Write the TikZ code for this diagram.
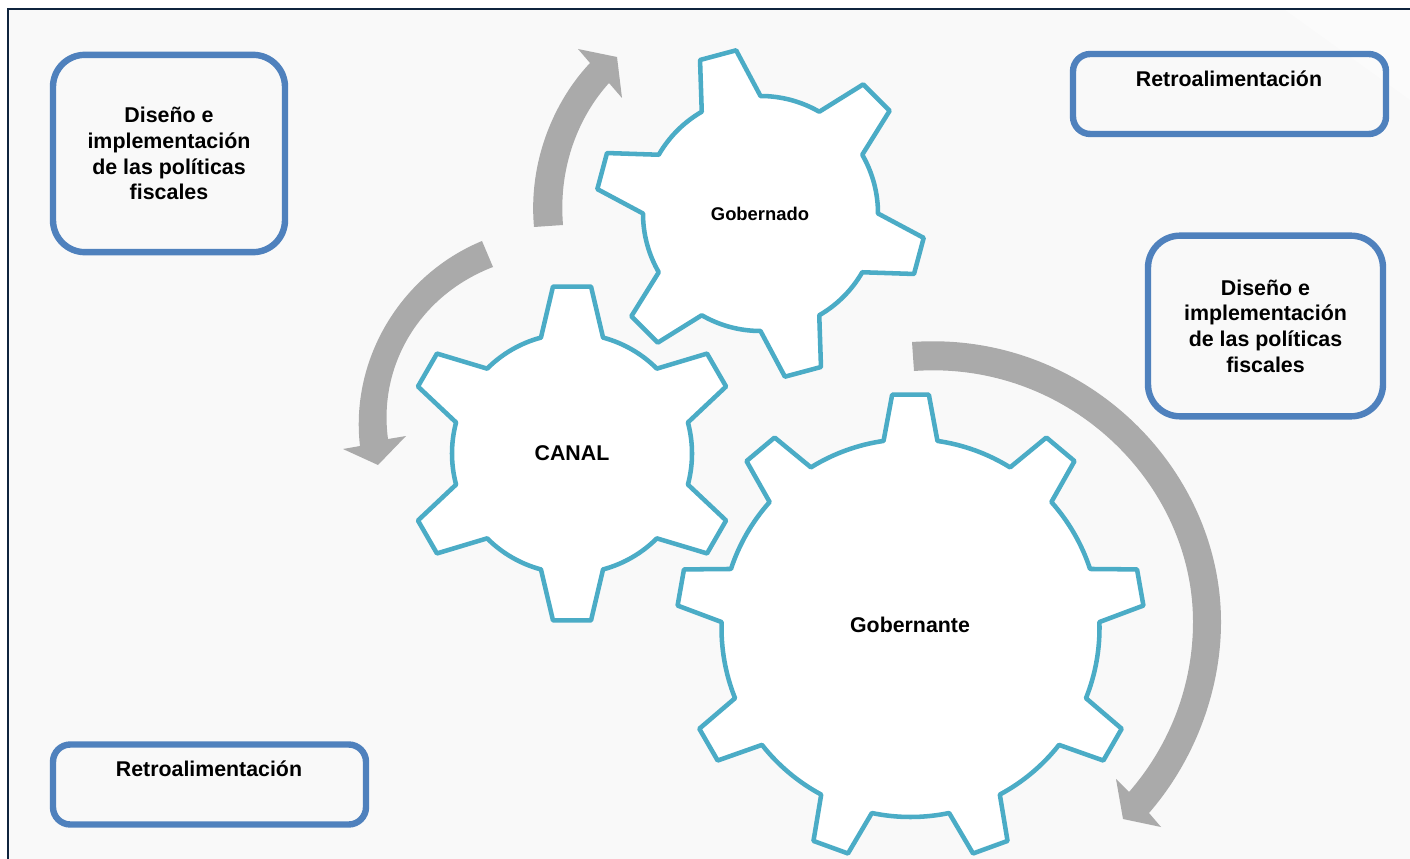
\documentclass[tikz,border=0pt]{standalone}
\usepackage{fontspec}
\setmainfont{Liberation Sans}
\definecolor{boxblue}{HTML}{4F81BD}
\definecolor{gearteal}{HTML}{4BACC6}
\definecolor{arrowgray}{HTML}{AAAAAA}
\definecolor{framenavy}{HTML}{0F243E}
\definecolor{pagebg}{HTML}{F9F9F9}
% #1 centre, #2 number of teeth, #3 rotation of first tooth (clockwise from top),
% #4 body radius (px), #5 tip radius (px), #6 base half angle, #7 tip half angle
\newcommand{\geardraw}[7]{%
  \begin{scope}[shift={#1}]
    \pgfmathsetmacro{\gstep}{360/#2}
    \pgfmathsetmacro{\grb}{#4*0.75}
    \pgfmathsetmacro{\grt}{#5*0.75}
    \pgfmathsetmacro{\glast}{int(#2-1)}
    \draw[gearline] (90-#3+#6:\grb pt)
      \foreach \gi [evaluate=\gi as \gp using 90-#3-\gi*\gstep] in {0,...,\glast}{
        -- (\gp+#7:\grt pt) -- (\gp-#7:\grt pt) -- (\gp-#6:\grb pt)
        arc[start angle=\gp-#6, end angle=\gp-\gstep+#6, radius=\grb pt]
      } -- cycle;
  \end{scope}}
\tikzset{
  gearline/.style={draw=gearteal,fill=white,line width=3.4pt,line join=round},
  roundbox/.style={draw=boxblue,line width=4.8pt,align=center,inner sep=0pt,outer sep=0pt,font=\bfseries\fontsize{16.05}{19.3}\selectfont},
  labeltext/.style={inner sep=0pt,align=center,font=\bfseries\fontsize{16}{19.3}\selectfont},
  bigarrow/.style={fill=arrowgray,draw=none}
}
\begin{document}
\begin{tikzpicture}[x=0.75pt,y=-0.75pt]
\useasboundingbox (0,0) rectangle (1410,859);
\fill[white] (0,0) rectangle (1410,859);
\fill[pagebg] (8,10) rectangle (1410,859);
\fill[white!40!pagebg] (1285,10) -- (1410,10) -- (1410,100) -- cycle;
\draw[framenavy,line width=1.6pt] (8,859) -- (8,9) -- (1410,9);

% gears
\geardraw{(760.5,213.5)}{6}{-15}{117.5}{165}{15}{6.5}
\geardraw{(572,453.5)}{6}{0}{120}{168}{15}{6.5}
\geardraw{(910.5,628)}{9}{0}{189}{234}{8.2}{4.5}

% gear labels
\node[labeltext,font=\bfseries\fontsize{13.8}{16}\selectfont] (gobernado) at (760,213.5) {Gobernado};
\node[labeltext] (canal) at (572,453.5) {CANAL};
\node[labeltext] (gobernante) at (910,624.5) {Gobernante};

% arrows
\fill[bigarrow] (534,227) .. controls (528,160) and (555,100) .. (590,63)
  -- (578,49) -- (617,57) -- (622,98) -- (609,83)
  .. controls (580,115) and (558,165) .. (563,225) -- cycle;
\fill[bigarrow] (482,241) .. controls (400,275) and (350,360) .. (360,446)
  -- (343,449) -- (378,465) -- (406,436) -- (388,439)
  .. controls (378,365) and (420,295) .. (493,267) -- cycle;
\fill[bigarrow] (912,342) .. controls (1083,330) and (1221,467) .. (1221,622)
  .. controls (1221,690) and (1195,760) .. (1149,813)
  -- (1161,827) -- (1123,819) -- (1116,779) -- (1129,792)
  .. controls (1170,745) and (1193,685) .. (1193,622)
  .. controls (1193,483) and (1068,360) .. (914,371) -- cycle;

% boxes
\node[roundbox,rounded corners=24pt,minimum width=174pt,minimum height=148pt] (box1) at (169,153.5)
  {Diseño e\\implementación\\de las políticas\\fiscales};
\node[roundbox,rounded corners=24pt,minimum width=176.25pt,minimum height=135.5pt] (box3) at (1265.5,326)
  {Diseño e\\implementación\\de las políticas\\fiscales};
\node[roundbox,rounded corners=13pt,minimum width=234.75pt,minimum height=60pt] (box2) at (1229.5,94) {};
\node[roundbox,rounded corners=13pt,minimum width=234.75pt,minimum height=60pt] (box4) at (209.5,784.5) {};
\node[labeltext] (retro2) at (1229,79) {Retroalimentación};
\node[labeltext] (retro4) at (209,768.5) {Retroalimentación};
\end{tikzpicture}
\end{document}
